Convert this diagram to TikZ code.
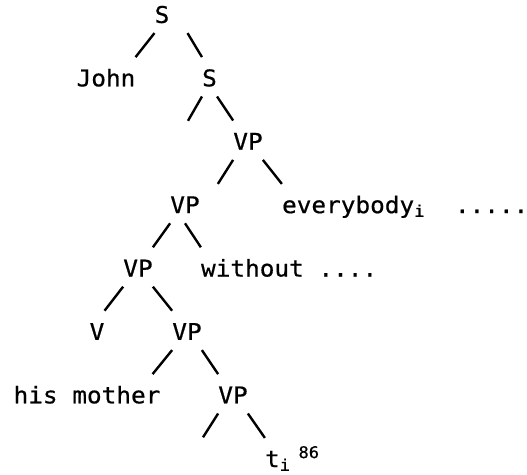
\documentclass[tikz,border=0pt]{standalone}
\usepackage{fontspec}
\usepackage{tikz}
\usetikzlibrary{positioning}
\newfontfamily\treefont[FakeStretch=1.06,FakeBold=0.6]{DejaVu Sans Mono}

\tikzset{
  word/.style={font=\treefont\fontsize{23}{27}\selectfont, inner sep=0pt,
    text height=29pt, text depth=10pt},
  branch/.style={line width=2.4pt}
}

\begin{document}
\begin{tikzpicture}[baseline={(current bounding box.center)}]
  \useasboundingbox (0,0) rectangle (527pt,-474pt);
  %Place the words first, one row of the tree after the other.
  \node [word] (s0) at (162pt,-13.4pt) {S}; %the root
  \node [word, on grid, below left=63.4pt and 56pt of s0] (john) {John};
  \node [word, on grid, below right=63.4pt and 47.5pt of s0] (s1) {S};
  \coordinate [on grid, below left=44pt and 21.5pt of s1] (s1-gap); %empty left arm
  \node [word, on grid, below right=63.4pt and 38.5pt of s1] (vp1) {VP};
  \node [word, on grid, below left=63.4pt and 63pt of vp1] (vp2) {VP};
  \node [word, right=82pt of vp2] (every) {everybody\textsubscript{i}\hspace{30pt}.....};
  \node [word, on grid, below left=63.4pt and 47pt of vp2] (vp3) {VP};
  \node [word, right=48pt of vp3] (without) {without ....};
  \node [word, on grid, below left=63.4pt and 41pt of vp3] (v) {V};
  \node [word, on grid, below right=63.4pt and 49pt of vp3] (vp4) {VP};
  \node [word, on grid, below left=63.4pt and 100pt of vp4] (mother) {his mother};
  \node [word, on grid, below right=63.4pt and 46pt of vp4] (vp5) {VP};
  \coordinate [on grid, below left=43.5pt and 30pt of vp5] (vp5-gap); %empty left arm
  \node [word, below right=24.4pt and 17pt of vp5] (trace) {t\textsubscript{i}\hspace{8pt}\textsuperscript{86}};

  %The arms of the tree: short strokes between the corners of the words.
  \draw [branch] (s0.south west) -- (john.north east);
  \draw [branch] ([xshift=18pt]s0.south east) -- (s1.north west);
  \draw [branch] (s1.south west) -- (s1-gap);
  \draw [branch] (s1.south east) -- (vp1.north west);
  \draw [branch] (vp1.south west) -- ([xshift=18pt]vp2.north east);
  \draw [branch] (vp1.south east) -- (every.north west);
  \draw [branch] (vp2.south west) -- (vp3.north east);
  \draw [branch] (vp2.south) -- (without.north west);
  \draw [branch] (vp3.south west) -- (v.north east);
  \draw [branch] (vp3.south east) -- (vp4.north west);
  \draw [branch] (vp4.south west) -- ([xshift=-8pt]mother.north east);
  \draw [branch] (vp4.south east) -- (vp5.north west);
  \draw [branch] (vp5.south west) -- (vp5-gap);
  \draw [branch] (vp5.south east) -- (trace.north west);
\end{tikzpicture}
\end{document}
